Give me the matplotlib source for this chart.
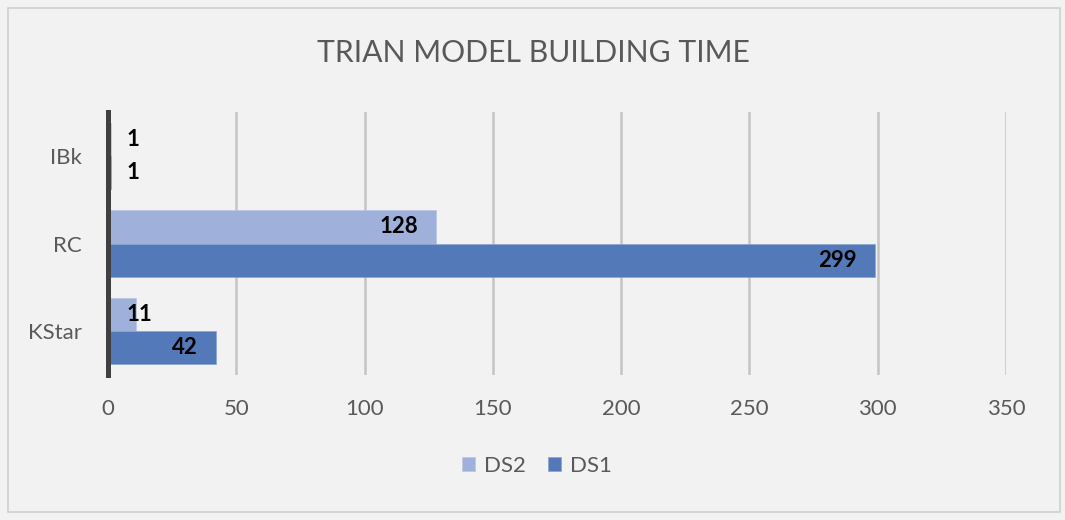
import matplotlib
matplotlib.use("Agg")
import matplotlib.pyplot as plt
from matplotlib.patches import Rectangle
import matplotlib.transforms as mtransforms
import numpy as np

categories = ["KStar", "RC", "IBk"]
ds1 = [42, 299, 1]
ds2 = [11, 128, 1]
series_names = ["DS2", "DS1"]
xticks = [0, 50, 100, 150, 200, 250, 300, 350]
title = "TRIAN MODEL BUILDING TIME"

plt.rcParams['font.family'] = ['Lato', 'DejaVu Sans']
BG = "#f2f2f2"
C_DS2 = "#9fb0da"
C_DS1 = "#5479b9"
TXT = "#595959"
FS = 16

fig = plt.figure(figsize=(10.65, 5.2), dpi=100, facecolor=BG)
fig.patches.append(Rectangle((8/1065, 8/520), 1052/1065, 504/520, transform=fig.transFigure,
                             fill=False, edgecolor="#d0d0d0", linewidth=1.2))
ax = fig.add_axes([108/1065, 1-375/520, 898/1065, 263/520])
ax.set_facecolor(BG)

y = np.arange(len(categories))
h = 0.38
b2 = ax.barh(y + h/2, ds2, height=h, color=C_DS2, edgecolor="#b9c6e6", linewidth=0.5, label="DS2", zorder=3)
b1 = ax.barh(y - h/2, ds1, height=h, color=C_DS1, edgecolor="#8aa3d0", linewidth=0.5, label="DS1", zorder=3)

ax.set_xlim(0, 350)
ax.set_ylim(-0.5, 2.5)
ax.set_xticks(xticks)
ax.set_xticklabels([str(t) for t in xticks])
ax.set_yticks(y)
ax.set_yticklabels(categories)
ax.tick_params(axis='both', length=0, labelsize=FS, colors=TXT)
ax.tick_params(axis='x', pad=17)
ax.tick_params(axis='y', pad=19)
for s in ["top", "right", "bottom"]:
    ax.spines[s].set_visible(False)
ax.spines["left"].set_color("#404040")
ax.spines["left"].set_linewidth(3.6)
ax.spines["left"].set_zorder(5)
ax.xaxis.grid(True, color="#c4c4c4", linewidth=1.8, zorder=0)
ax.set_axisbelow(True)

for bars, vals in ((b2, ds2), (b1, ds1)):
    for rect, v in zip(bars, vals):
        yc = rect.get_y() + rect.get_height()/2
        if v < 20:
            tr = mtransforms.offset_copy(ax.transData, fig=fig, x=13.5, y=0, units='points')
            ax.text(0, yc, str(v), transform=tr, ha='left', va='center', fontsize=FS,
                    fontweight='bold', color='black', zorder=6)
        else:
            tr = mtransforms.offset_copy(ax.transData, fig=fig, x=-13, y=0, units='points')
            ax.text(v, yc, str(v), transform=tr, ha='right', va='center', fontsize=FS,
                    fontweight='bold', color='black', zorder=6)

fig.text(533/1065, 1-53/520, title, ha='center', va='center', fontsize=21.7, color=TXT)

handles = [b2, b1]
leg = fig.legend(handles, series_names, loc='center', bbox_to_anchor=(537/1065, 1-466/520),
                 ncol=2, frameon=False, fontsize=FS, handlelength=0.6, handleheight=0.6,
                 handletextpad=0.4, columnspacing=1.0)
for t in leg.get_texts():
    t.set_color(TXT)

fig.savefig("out.png", dpi=100, facecolor=BG)
